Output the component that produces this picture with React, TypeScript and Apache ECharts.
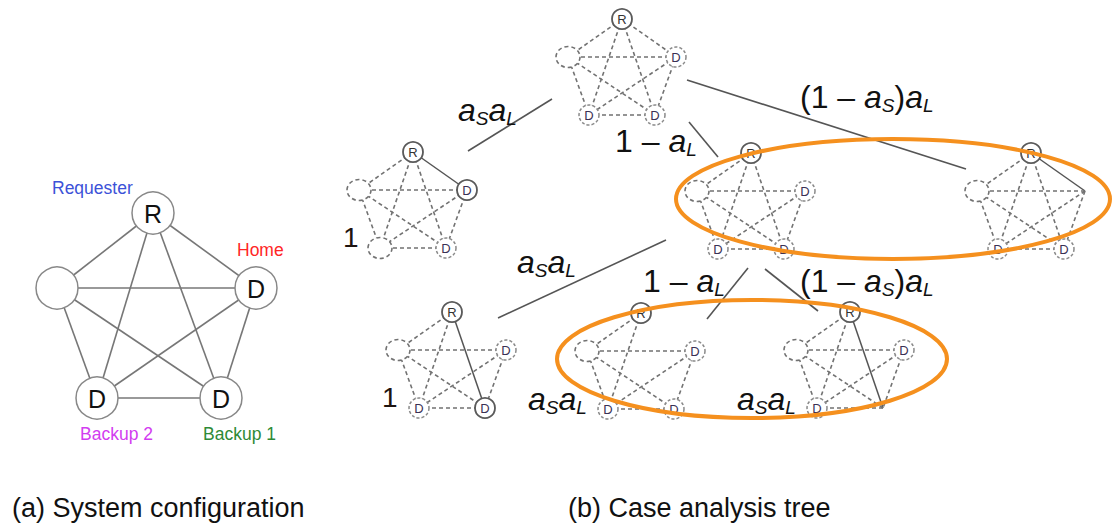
import React, { useEffect, useRef } from "react";
import * as echarts from "echarts";

const FONT = "'Liberation Sans', Arial, Helvetica, sans-serif";

// ---------- (a) System configuration ----------
const configLetters = ["R", "D", "D", "D", ""]; // top, right, bottom-right, bottom-left, left
const configNodePos = [[153, 213], [256, 288], [221, 398], [97, 398], [57, 288]];
const configLabels = ["Requester", "Home", "Backup 1", "Backup 2"];
const configLabelColors = ["#3c52d8", "#ff2626", "#2e8a36", "#d23cf0"];
const configLabelPos = [[52, 194], [237, 256], [203, 440], [80, 440]];

// ---------- (b) Case analysis tree ----------
// node order in every pentagon: requester(top), home(right), backup1(bottom-right), backup2(bottom-left), other(left)
const pentagonOffsets = [[0, 0], [54, 38], [33, 96], [-33, 96], [-54, 38]];
const pentagonAnchors = [[622, 19], [413, 152], [751, 153], [1031, 153], [452, 312], [641, 313], [850, 312]];
// Rs = requester (solid), Ds = D solid, Dd = D dashed, E = empty dashed, X = missing
const nodeStates = [
  ["Rs", "Dd", "Dd", "Dd", "E"],
  ["Rs", "Ds", "Dd", "E", "E"],
  ["Rs", "Dd", "Dd", "Dd", "E"],
  ["Rs", "X", "Dd", "Dd", "E"],
  ["Rs", "Dd", "Ds", "Dd", "E"],
  ["Rs", "Dd", "Dd", "Dd", "E"],
  ["Rs", "Dd", "X", "Dd", "E"],
];
const solidEdges = [[], [[0, 1]], [], [[0, 1]], [[0, 2]], [], [[0, 2]]];
const missingEdges = [[], [], [[0, 1]], [], [[0, 1]], [[0, 1], [0, 2]], [[0, 1]]];

// tree branches (parent -> child connectors)
const treeLinks = [
  [552, 99, 468, 151],
  [689, 122, 718, 157],
  [687, 80, 966, 169],
  [666, 240, 498, 318],
  [748, 268, 707, 319],
  [765, 269, 818, 311],
];

// branch probabilities: pieces of [style, text]; n = upright, i = italic, s = italic subscript
const AS_AL = [["i", "a"], ["s", "S"], ["i", "a"], ["s", "L"]];
const ONE_MINUS_AL = [["n", "1 – "], ["i", "a"], ["s", "L"]];
const ONE_MINUS_AS_AL = [["n", "(1 – "], ["i", "a"], ["s", "S"], ["n", ")"], ["i", "a"], ["s", "L"]];
const branchLabels = [AS_AL, ONE_MINUS_AL, ONE_MINUS_AS_AL, AS_AL, ONE_MINUS_AL, ONE_MINUS_AS_AL, AS_AL, AS_AL];
const branchLabelPos = [[458, 121], [615, 152], [800, 108], [517, 273], [643, 292], [800, 292], [528, 410], [737, 410]];

const outcomeLabels = ["1", "1"];
const outcomeLabelPos = [[343, 247], [382, 407]];

const groupEllipses = [[893, 199, 217, 60], [752, 359, 195, 59]];

const captions = ["(a) System configuration", "(b) Case analysis tree"];
const captionPos = [[12, 517], [568, 517]];

const pieceStyles: Record<string, { size: number; italic: boolean; dy: number }> = {
  n: { size: 32, italic: false, dy: 0 },
  i: { size: 32, italic: true, dy: 0 },
  s: { size: 19, italic: true, dy: 4 },
};

let measureCtx: CanvasRenderingContext2D | null = null;
function measure(text: string, size: number, italic: boolean) {
  if (!measureCtx) measureCtx = document.createElement("canvas").getContext("2d");
  if (!measureCtx) return text.length * size * 0.55;
  measureCtx.font = `${italic ? "italic " : ""}${size}px ${FONT}`;
  return measureCtx.measureText(text).width;
}

function hasEdge(list: number[][], a: number, b: number) {
  return list.some((e) => (e[0] === a && e[1] === b) || (e[0] === b && e[1] === a));
}

function buildElements() {
  const els: any[] = [];

  // (a) complete graph
  for (let i = 0; i < 5; i++) {
    for (let j = i + 1; j < 5; j++) {
      els.push({
        type: "line",
        z: 1,
        shape: { x1: configNodePos[i][0], y1: configNodePos[i][1], x2: configNodePos[j][0], y2: configNodePos[j][1] },
        style: { stroke: "#777", lineWidth: 1.6 },
      });
    }
  }
  configNodePos.forEach((p, i) => {
    els.push({
      type: "circle",
      z: 2,
      shape: { cx: p[0], cy: p[1], r: 21 },
      style: { fill: "#fff", stroke: "#888", lineWidth: 1.5 },
    });
    if (configLetters[i]) {
      els.push({
        type: "text",
        z: 3,
        x: p[0],
        y: p[1] + 1,
        style: { text: configLetters[i], fontSize: 25, fontFamily: FONT, fill: "#111", align: "center", verticalAlign: "middle" },
      });
    }
  });
  configLabels.forEach((t, i) => {
    els.push({
      type: "text",
      z: 3,
      x: configLabelPos[i][0],
      y: configLabelPos[i][1] - 0.35 * 17.5,
      style: { text: t, fontSize: 17.5, fontFamily: FONT, fill: configLabelColors[i], align: "left", verticalAlign: "middle" },
    });
  });

  // (b) pentagons
  pentagonAnchors.forEach((a, k) => {
    const pts = pentagonOffsets.map((o) => [a[0] + o[0], a[1] + o[1]]);
    for (let i = 0; i < 5; i++) {
      for (let j = i + 1; j < 5; j++) {
        if (hasEdge(missingEdges[k], i, j)) continue;
        const solid = hasEdge(solidEdges[k], i, j);
        els.push({
          type: "line",
          z: 1,
          shape: { x1: pts[i][0], y1: pts[i][1], x2: pts[j][0], y2: pts[j][1] },
          style: solid
            ? { stroke: "#555", lineWidth: 1.5 }
            : { stroke: "#727272", lineWidth: 1.6, lineDash: [4, 3] },
        });
      }
    }
    nodeStates[k].forEach((s, i) => {
      const p = pts[i];
      if (s === "X") return;
      if (s === "E") {
        els.push({
          type: "ellipse",
          z: 2,
          shape: { cx: p[0], cy: p[1], rx: 12, ry: 10.5 },
          style: { fill: "#fff", stroke: "#727272", lineWidth: 1.6, lineDash: [4, 3] },
        });
        return;
      }
      const solid = s === "Rs" || s === "Ds";
      els.push({
        type: "circle",
        z: 2,
        shape: { cx: p[0], cy: p[1], r: 10 },
        style: solid
          ? { fill: "#fff", stroke: "#5a5a5a", lineWidth: 1.8 }
          : { fill: "#fff", stroke: "#8a8a8a", lineWidth: 1.5, lineDash: [3, 2] },
      });
      els.push({
        type: "text",
        z: 3,
        x: p[0],
        y: p[1] + 0.5,
        style: {
          text: s === "Rs" ? "R" : "D",
          fontSize: 13,
          fontFamily: FONT,
          fill: s === "Rs" ? "#333" : "#3a3055",
          align: "center",
          verticalAlign: "middle",
        },
      });
    });
  });

  // tree connectors
  treeLinks.forEach((l) => {
    els.push({
      type: "line",
      z: 3,
      shape: { x1: l[0], y1: l[1], x2: l[2], y2: l[3] },
      style: { stroke: "#555", lineWidth: 1.6 },
    });
  });

  // orange grouping ellipses
  groupEllipses.forEach((e) => {
    els.push({
      type: "ellipse",
      z: 4,
      shape: { cx: e[0], cy: e[1], rx: e[2], ry: e[3] },
      style: { fill: "none", stroke: "#f5901e", lineWidth: 4 },
    });
  });

  // branch labels, laid out piece by piece (baseline-left anchored)
  branchLabels.forEach((pieces, i) => {
    let cx = branchLabelPos[i][0];
    const base = branchLabelPos[i][1];
    pieces.forEach(([kind, txt]) => {
      const ps = pieceStyles[kind];
      const b = base + ps.dy;
      els.push({
        type: "text",
        z: 5,
        x: cx,
        y: b - 0.3465 * ps.size,
        style: {
          text: txt,
          fontSize: ps.size,
          fontStyle: ps.italic ? "italic" : "normal",
          fontFamily: FONT,
          fill: "#111",
          align: "left",
          verticalAlign: "middle",
        },
      });
      cx += measure(txt, ps.size, ps.italic);
    });
  });

  outcomeLabels.forEach((t, i) => {
    els.push({
      type: "text",
      z: 5,
      x: outcomeLabelPos[i][0],
      y: outcomeLabelPos[i][1] - 0.35 * 28,
      style: { text: t, fontSize: 28, fontFamily: FONT, fill: "#1e1410", align: "left", verticalAlign: "middle" },
    });
  });

  captions.forEach((t, i) => {
    els.push({
      type: "text",
      z: 5,
      x: captionPos[i][0],
      y: captionPos[i][1] - 0.35 * 27,
      style: { text: t, fontSize: 27, fontFamily: FONT, fill: "#111", align: "left", verticalAlign: "middle" },
    });
  });

  return els;
}

export default function App() {
  const ref = useRef<HTMLDivElement>(null);
  useEffect(() => {
    const chart = echarts.init(ref.current!, null, { renderer: "svg" });
    chart.setOption({ animation: false, graphic: { elements: buildElements() } });
    return () => chart.dispose();
  }, []);
  return (
    <div
      ref={ref}
      style={{ position: "absolute", left: 0, top: 0, width: 1112, height: 527, background: "#fff" }}
    />
  );
}
